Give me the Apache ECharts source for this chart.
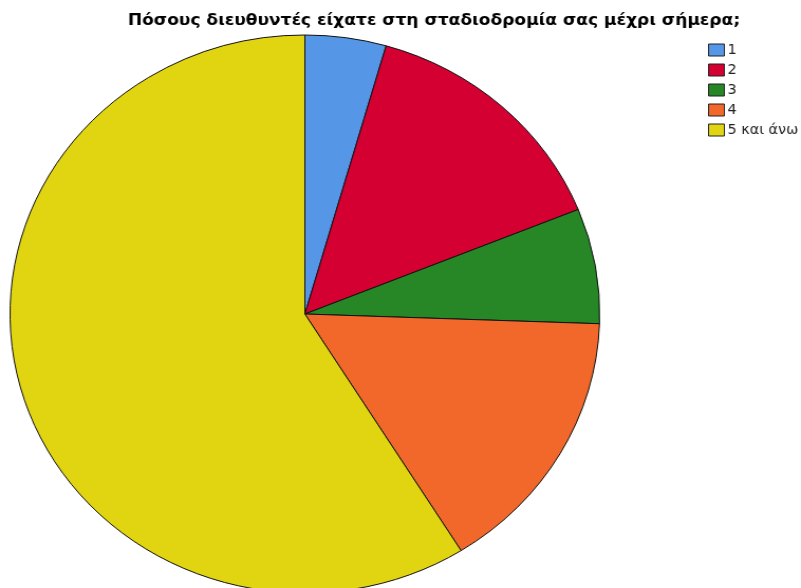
<!DOCTYPE html>
<html>
<head>
<meta charset="utf-8">
<script src="https://cdn.jsdelivr.net/npm/echarts@6/dist/echarts.min.js"></script>
<style>
html,body{margin:0;padding:0;background:#fff;overflow:hidden;}
#frame{position:relative;width:801px;height:588px;overflow:hidden;background:#fff;}
/* chart is laid out at 758px wide and stretched to the 801px frame */
#chart{position:absolute;left:0;top:0;width:758px;height:588px;transform-origin:0 0;transform:scaleX(1.0567);}
</style>
</head>
<body>
<div id="frame"><div id="chart"></div></div>
<script>
// Number of directors during career (respondent counts)
const categories = ['1', '2', '3', '4', '5 και άνω'];
const counts = [4, 13, 6, 14, 53];
const colors = ['#5596E6', '#D40032', '#278727', '#F2682B', '#E1D511'];

const chart = echarts.init(document.getElementById('chart'), null, {renderer: 'canvas'});

chart.setOption({
  animation: false,
  backgroundColor: '#ffffff',
  title: {
    text: 'Πόσους διευθυντές είχατε στη σταδιοδρομία σας μέχρι σήμερα;',
    left: 121,
    top: 13,
    padding: 0,
    z: 10,
    textStyle: {
      fontFamily: 'DejaVu Sans, sans-serif',
      fontWeight: 'bold',
      fontSize: 16.15,
      color: '#000'
    }
  },
  legend: {
    orient: 'vertical',
    left: 665,
    top: 38,
    itemWidth: 15,
    itemHeight: 12,
    itemGap: 6,
    icon: 'rect',
    textStyle: {
      fontFamily: 'DejaVu Sans, sans-serif',
      fontSize: 13.6,
      color: '#222',
      padding: [0, 0, 0, -2]
    },
    itemStyle: {borderColor: '#222', borderWidth: 1},
    data: categories
  },
  series: [{
    type: 'pie',
    center: [288.5, 314],
    radius: 279,
    startAngle: 90,
    clockwise: true,
    z: 1,
    label: {show: false},
    labelLine: {show: false},
    emphasis: {disabled: true},
    itemStyle: {borderColor: '#111', borderWidth: 1},
    data: categories.map((c, i) => ({
      name: c,
      value: counts[i],
      itemStyle: {color: colors[i]}
    }))
  }]
});
</script>
</body>
</html>
